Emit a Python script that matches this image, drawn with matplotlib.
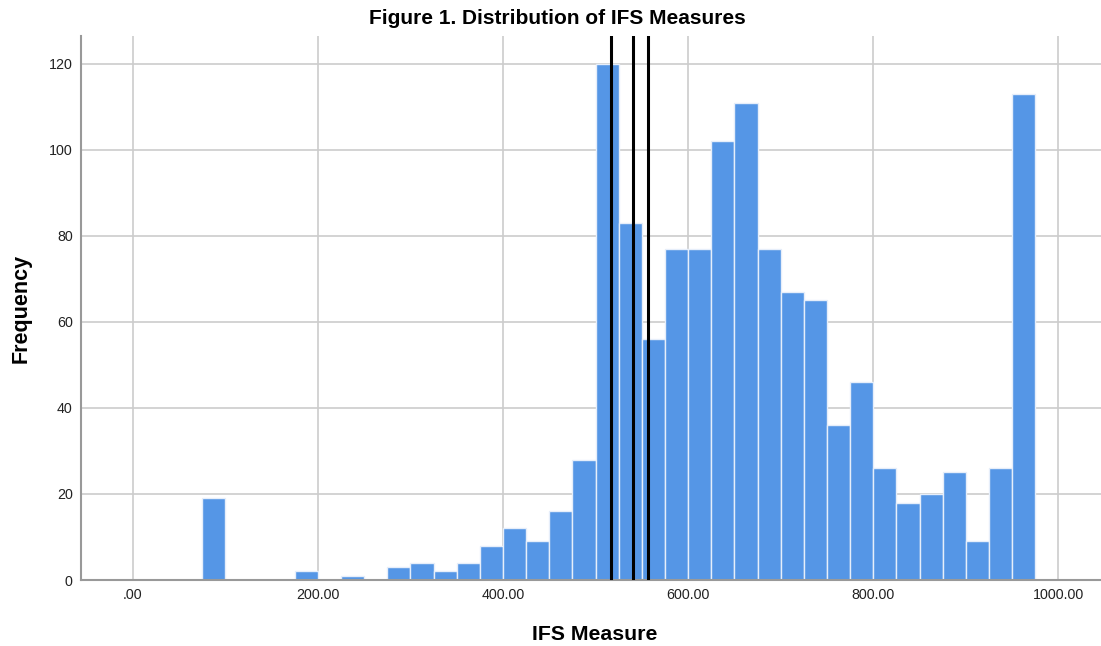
import numpy as np
import matplotlib.pyplot as plt

plt.rcParams['font.family'] = ['Liberation Sans', 'DejaVu Sans']

# histogram bins (width 25) and counts
bin_left = np.array([75, 175, 225, 275, 300, 325, 350, 375, 400, 425, 450, 475,
                     500, 525, 550, 575, 600, 625, 650, 675, 700, 725, 750, 775,
                     800, 825, 850, 875, 900, 925, 950])
counts = np.array([19, 2, 1, 3, 4, 2, 4, 8, 12, 9, 16, 28,
                   120, 83, 56, 77, 77, 102, 111, 77, 67, 65, 36, 46,
                   26, 18, 20, 25, 9, 26, 113])
bin_width = 25
ref_lines = [517, 540, 557]

xticks = [0, 200, 400, 600, 800, 1000]
xtick_labels = ['.00', '200.00', '400.00', '600.00', '800.00', '1000.00']
yticks = [0, 20, 40, 60, 80, 100, 120]

fig = plt.figure(figsize=(11.01, 6.46), dpi=100)
ax = fig.add_axes([81/1101, 66/646, 1 - 81/1101, (580-36)/646])

ax.bar(bin_left, counts, width=bin_width, align='edge', color='#5596e6',
       edgecolor='#e6eefa', linewidth=1.0, zorder=2)
for v in ref_lines:
    ax.axvline(v, color='black', linewidth=2.2, zorder=3)

ax.set_xlim(-55.8, 1046)
ax.set_ylim(0, 126.5)
ax.set_xticks(xticks)
ax.set_xticklabels(xtick_labels)
ax.set_yticks(yticks)
ax.grid(True, color='#cccccc', linewidth=1.2, zorder=0)
ax.set_axisbelow(True)
ax.tick_params(length=0, labelsize=10.3, colors='#222222', pad=6)

for side in ['top', 'right']:
    ax.spines[side].set_visible(False)
for side in ['left', 'bottom']:
    ax.spines[side].set_color('#999999')
    ax.spines[side].set_linewidth(1.5)

fig.text(557/1101, 1 - 19/646, 'Figure 1. Distribution of IFS Measures',
         ha='center', va='center', fontsize=15, fontweight='bold')
ax.set_xlabel('IFS Measure', fontsize=15.3, fontweight='bold')
ax.set_ylabel('Frequency', fontsize=15.5, fontweight='bold')
ax.xaxis.set_label_coords((595 - 81) / 1020, (580 - 635) / 544)
ax.yaxis.set_label_coords((21 - 81) / 1020, (580 - 308) / 544)
ax.xaxis.label.set_va('center')
ax.yaxis.label.set_va('center')

fig.savefig('out.png', dpi=100)
